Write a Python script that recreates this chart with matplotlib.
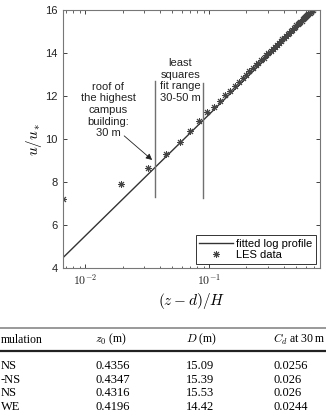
import matplotlib
matplotlib.use("Agg")
import matplotlib.pyplot as plt
from matplotlib.lines import Line2D
from matplotlib.ticker import FixedLocator, FixedFormatter

plt.rcParams['font.family'] = ['Liberation Sans', 'DejaVu Sans']
plt.rcParams['mathtext.fontset'] = 'cm'

# fitted log profile (straight line on semilog axes), end points
fit_x = [0.0066, 0.785]
fit_y = [4.48, 16.2]

# LES data, (z-d)/H and u/u*
les_x = [0.0066, 0.0194, 0.0322, 0.045, 0.0578, 0.0706, 0.0834, 0.0962,
         0.109, 0.1218, 0.1346, 0.1474, 0.1602, 0.173, 0.1858, 0.1986,
         0.2114, 0.2242, 0.237, 0.2498, 0.2626, 0.2754, 0.2882, 0.301,
         0.3138, 0.3266, 0.3394, 0.3522, 0.365, 0.3778, 0.3906, 0.4034,
         0.4162, 0.429, 0.4418, 0.4546, 0.4674, 0.4802, 0.493, 0.5058,
         0.5186, 0.5314, 0.5442, 0.557, 0.5698, 0.5826, 0.5954, 0.6082,
         0.621, 0.6338, 0.6466, 0.6594, 0.6722, 0.685, 0.6978]
les_y = [7.21, 7.92, 8.67, 9.30, 9.86, 10.37, 10.85, 11.27,
         11.51, 11.78, 12.03, 12.25, 12.46, 12.64, 12.82, 12.98,
         13.14, 13.28, 13.42, 13.55, 13.67, 13.79, 13.90, 14.00,
         14.11, 14.20, 14.30, 14.39, 14.48, 14.56, 14.64, 14.72,
         14.80, 14.87, 14.95, 15.02, 15.08, 15.15, 15.21, 15.28,
         15.34, 15.40, 15.46, 15.51, 15.57, 15.62, 15.68, 15.73,
         15.78, 15.83, 15.88, 15.93, 15.98, 16.02, 16.07]

# fit range markers: 30 m and 50 m
range_x = [0.0366, 0.0894]
range_y0 = [7.3, 7.25]
range_y1 = [12.7, 12.6]

xticks = [0.01, 0.1]
xtick_labels = [r'$\mathsf{10^{-2}}$', r'$\mathsf{10^{-1}}$']

# table under the plot (left part is cropped in the source)
tab_header = ["mulation", "$z_0$ (m)", "$D$ (m)", "$C_d$ at 30\u2009m"]
tab_names = ["NS", "-NS", "NS", "WE"]
tab_z0 = ["0.4356", "0.4347", "0.4316", "0.4196"]
tab_D = ["15.09", "15.39", "15.53", "14.42"]
tab_cd = ["0.0256", "0.026", "0.026", "0.0244"]

W, H = 326, 419
fig = plt.figure(figsize=(W / 100, H / 100), dpi=100)
ax = fig.add_axes([63 / W, 1 - 268 / H, (320 - 63) / W, (268 - 10) / H])

ax.semilogx(fit_x, fit_y, color='#333333', lw=1.0, label='fitted log profile')
ax.plot(les_x, les_y, ls='none', marker=(8, 2, 0), ms=5, mew=0.7,
        color='#444444', label='LES data')
for x, a, b in zip(range_x, range_y0, range_y1):
    ax.plot([x, x], [a, b], color='#707070', lw=1.0)

ax.set_xlim(0.0066, 0.785)
ax.set_ylim(4, 16)
ax.set_yticks([4, 6, 8, 10, 12, 14, 16])
ax.xaxis.set_major_locator(FixedLocator(xticks))
ax.xaxis.set_major_formatter(FixedFormatter(xtick_labels))
ax.tick_params(which='both', direction='in', top=True, right=True,
               labelsize=8, colors='#222222', pad=4)
ax.tick_params(axis='x', labelsize=8.5)
ax.tick_params(which='major', length=3, width=0.6)
ax.tick_params(which='minor', length=1.8, width=0.5)
for s in ax.spines.values():
    s.set_color('#777777')
    s.set_linewidth(0.8)

ax.set_xlabel('$(z-d)/H$', fontsize=11, labelpad=2)
ax.set_ylabel('$u/u_*$', fontsize=11, labelpad=1)

ax.text(0.01533, 11.35, 'roof of\nthe highest\ncampus\nbuilding:\n30 m',
        ha='center', va='center', fontsize=8, color='#222222', linespacing=1.2)
ax.text(0.0583, 12.72, 'least\nsquares\nfit range\n30-50 m',
        ha='center', va='center', fontsize=8, color='#222222', linespacing=1.2)
ax.annotate('', xy=(0.036, 8.94), xytext=(0.0198, 10.23),
            arrowprops=dict(arrowstyle='-|>', color='#222222', lw=0.6,
                            mutation_scale=9))

leg = ax.legend(loc='lower right', fontsize=8, handlelength=3.0,
                handletextpad=0.3, labelspacing=0.15, borderpad=0.3,
                borderaxespad=0.4, fancybox=False, framealpha=1)
leg.get_frame().set_edgecolor('#333333')
leg.get_frame().set_linewidth(0.7)

# table
def fy(py):
    return 1 - py / H

fig.add_artist(Line2D([0, 1], [fy(328), fy(328)], color='#888888', lw=1.2))
fig.add_artist(Line2D([0, 1], [fy(350.5), fy(350.5)], color='#222222', lw=1.6))

serif = ['Liberation Serif', 'DejaVu Serif']
col_x = [95, 186, 273]
fig.text(1 / W, fy(339.5), tab_header[0], ha='left', va='center',
         fontsize=8.5, family=serif)
for cx, lab in zip(col_x, tab_header[1:]):
    fig.text(cx / W, fy(339.5), lab, ha='left', va='center', fontsize=8.5,
             family=serif)

row_y = [366, 379.5, 393.2, 407]
for ry, n, a, b, c in zip(row_y, tab_names, tab_z0, tab_D, tab_cd):
    fig.text(1 / W, fy(ry), n, ha='left', va='center', fontsize=9, family=serif)
    for cx, v in zip(col_x, [a, b, c]):
        fig.text(cx / W, fy(ry), v, ha='left', va='center', fontsize=9,
                 family=serif)

fig.savefig('out.png', dpi=100)
